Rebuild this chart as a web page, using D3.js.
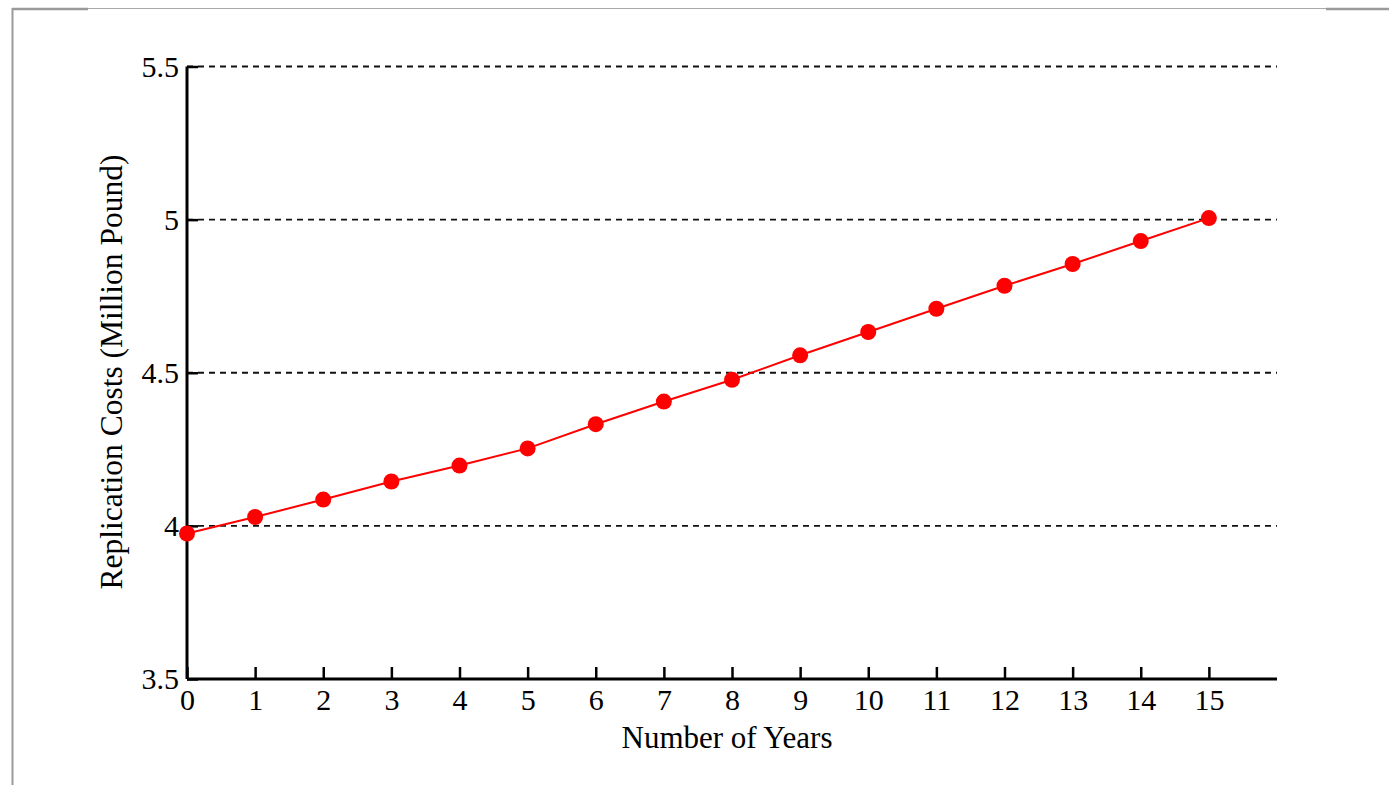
<!DOCTYPE html>
<html><head><meta charset="utf-8">
<script src="https://cdn.jsdelivr.net/npm/d3@7"></script>
<style>html,body{margin:0;padding:0;background:#fff;}svg{display:block;}</style>
</head><body>
<script>
const years = [0,1,2,3,4,5,6,7,8,9,10,11,12,13,14,15];
const costs = [3.975,4.029,4.086,4.145,4.197,4.253,4.332,4.406,4.477,4.557,4.633,4.709,4.784,4.855,4.930,5.005];
const xTicks = [0,1,2,3,4,5,6,7,8,9,10,11,12,13,14,15];
const yTicks = [3.5,4,4.5,5,5.5];
const xTitle = "Number of Years";
const yTitle = "Replication Costs (Million Pound)";

const W = 1389, H = 785;
const m = {left:187, right:1277, top:66.5, bottom:679};
const svg = d3.select("body").append("svg").attr("width",W).attr("height",H);
svg.append("rect").attr("width",W).attr("height",H).attr("fill","#fff");

// frame decoration
svg.append("line").attr("x1",12.5).attr("x2",12.5).attr("y1",8).attr("y2",H).attr("stroke","#9a9a9a").attr("stroke-width",2);
svg.append("line").attr("x1",12).attr("x2",W).attr("y1",8.5).attr("y2",8.5).attr("stroke","#a8a8a8").attr("stroke-width",1);
svg.append("line").attr("x1",12).attr("x2",88).attr("y1",9).attr("y2",9).attr("stroke","#9a9a9a").attr("stroke-width",2.5);
svg.append("line").attr("x1",1326).attr("x2",W).attr("y1",9).attr("y2",9).attr("stroke","#9a9a9a").attr("stroke-width",2.5);

const x = d3.scaleLinear().domain([0,16]).range([m.left,m.right]);
const y = d3.scaleLinear().domain([3.5,5.5]).range([m.bottom,m.top]);
const font = "'Liberation Serif','Times New Roman',serif";

// grid
svg.append("g").selectAll("line").data(yTicks.filter(d=>d>3.5)).join("line")
  .attr("x1",m.left).attr("x2",m.right).attr("y1",d=>y(d)).attr("y2",d=>y(d))
  .attr("stroke","#111").attr("stroke-width",1.8).attr("stroke-dasharray","6,5");

// axes
const xAxis = svg.append("g").attr("transform",`translate(0,${m.bottom})`)
  .call(d3.axisBottom(x).tickValues(xTicks).tickSize(-12).tickPadding(14).tickFormat(d3.format("d")));
const yAxis = svg.append("g").attr("transform",`translate(${m.left},0)`)
  .call(d3.axisLeft(y).tickValues(yTicks).tickSize(-11).tickPadding(8).tickFormat(d=>String(d)));
[xAxis,yAxis].forEach(g=>{
  g.select(".domain").attr("stroke","#000").attr("stroke-width",3);
  g.selectAll(".tick line").attr("stroke","#000").attr("stroke-width",2.5);
  g.selectAll("text").attr("font-family",font).attr("font-size",30).attr("fill","#000");
});
xAxis.select(".domain").attr("d",`M${m.left},0H${m.right}`);
yAxis.select(".domain").attr("d",`M0,${m.bottom}V${m.top}`);
xAxis.selectAll("text").attr("dy","0.71em").attr("y",10);

// series
const line = d3.line().x((d,i)=>x(years[i])).y(d=>y(d));
svg.append("path").datum(costs).attr("d",line).attr("fill","none").attr("stroke","#ff0000").attr("stroke-width",2);
svg.append("g").selectAll("circle").data(costs).join("circle")
  .attr("cx",(d,i)=>x(years[i])).attr("cy",d=>y(d)).attr("r",8).attr("fill","#ff0000");

// titles
svg.append("text").attr("x",727).attr("y",748).attr("text-anchor","middle")
  .attr("font-family",font).attr("font-size",31).attr("fill","#000").text(xTitle);
svg.append("text").attr("transform","translate(122,372) rotate(-90)").attr("text-anchor","middle")
  .attr("font-family",font).attr("font-size",31.5).attr("fill","#000").text(yTitle);
</script>
</body></html>
